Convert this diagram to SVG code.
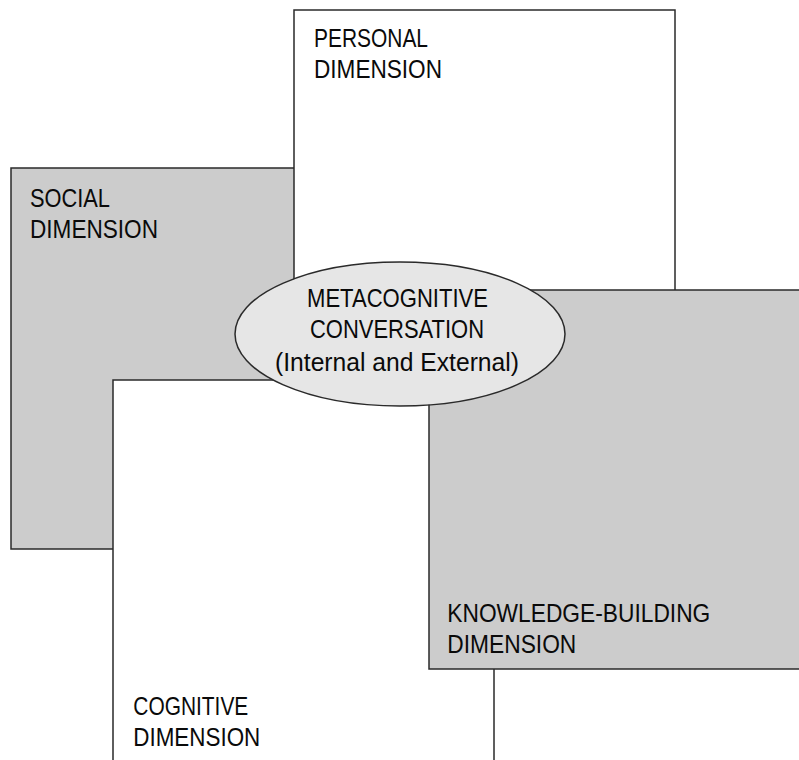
<svg xmlns="http://www.w3.org/2000/svg" width="799" height="760" viewBox="0 0 799 760">
<style>
  .box { stroke: #2a2a2a; stroke-width: 1.5; }
  .gray { fill: #cccccc; }
  .white { fill: #ffffff; }
  .lbl { font-family: "Liberation Sans", Arial, sans-serif; font-size: 25px; fill: #0a0a0a; }
</style>
<rect x="0" y="0" width="799" height="760" fill="#ffffff"/>
<g id="social">
  <rect class="box gray" x="11" y="168" width="489" height="381"/>
  <text class="lbl" x="30" y="206.5" textLength="80" lengthAdjust="spacingAndGlyphs">SOCIAL</text>
  <text class="lbl" x="30" y="238.3" textLength="128" lengthAdjust="spacingAndGlyphs">DIMENSION</text>
</g>
<g id="personal">
  <rect class="box white" x="294" y="10" width="381" height="320"/>
  <text class="lbl" x="314" y="46.7" textLength="114" lengthAdjust="spacingAndGlyphs">PERSONAL</text>
  <text class="lbl" x="314" y="78.3" textLength="128" lengthAdjust="spacingAndGlyphs">DIMENSION</text>
</g>
<g id="cognitive">
  <rect class="box white" x="113" y="380" width="381" height="400"/>
  <text class="lbl" x="133.3" y="715" textLength="115" lengthAdjust="spacingAndGlyphs">COGNITIVE</text>
  <text class="lbl" x="133.3" y="745.5" textLength="127" lengthAdjust="spacingAndGlyphs">DIMENSION</text>
</g>
<g id="knowledge">
  <rect class="box gray" x="429" y="290" width="390" height="379"/>
  <text class="lbl" x="447.3" y="622.3" textLength="263" lengthAdjust="spacingAndGlyphs">KNOWLEDGE-BUILDING</text>
  <text class="lbl" x="447.3" y="653.3" textLength="129" lengthAdjust="spacingAndGlyphs">DIMENSION</text>
</g>
<g id="metacognitive">
  <ellipse class="box" fill="#e6e6e6" cx="400" cy="334" rx="165" ry="72"/>
  <text class="lbl" x="397.5" y="306.5" text-anchor="middle" textLength="181" lengthAdjust="spacingAndGlyphs">METACOGNITIVE</text>
  <text class="lbl" x="397" y="338.3" text-anchor="middle" textLength="174" lengthAdjust="spacingAndGlyphs">CONVERSATION</text>
  <text class="lbl" x="397" y="370.5" text-anchor="middle" textLength="244" lengthAdjust="spacingAndGlyphs">(Internal and External)</text>
</g>
<g id="connectors"></g>
</svg>
